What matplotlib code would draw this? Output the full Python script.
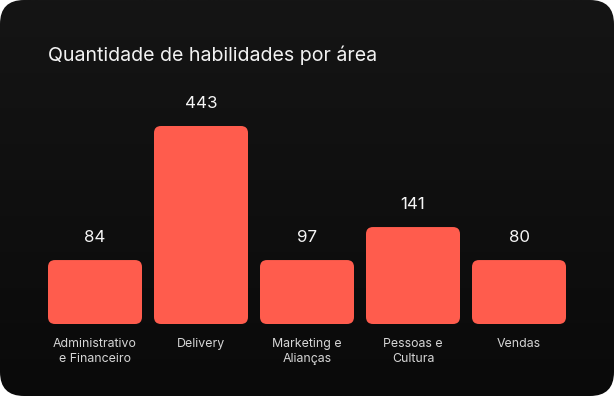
"""Quantidade de habilidades por área — dark card bar chart."""
import matplotlib
matplotlib.use("Agg")
import matplotlib.pyplot as plt
import numpy as np
from matplotlib.patches import FancyBboxPatch

areas = ["Administrativo\ne Financeiro", "Delivery", "Marketing e\nAlianças",
         "Pessoas e\nCultura", "Vendas"]
counts = np.array([84, 443, 97, 141, 80])

W, H, DPI = 614, 396, 100
BAR, TITLE, LABEL, WHITE = "#ff5c4d", "#f2f2f2", "#d6d6d6", "#f5f5f5"
FLOOR = 97          # smallest areas are drawn at a common minimum height
BASE = 47           # log-scale origin of the bars

plt.rcParams["font.family"] = ["Inter", "DejaVu Sans"]

fig = plt.figure(figsize=(W / DPI, H / DPI), dpi=DPI, facecolor="white")

# rounded dark card with a soft vertical gradient
card = FancyBboxPatch((0, 0), W, H, boxstyle="round,pad=0,rounding_size=24",
                      transform=None, facecolor="none", edgecolor="none")
fig.patches.append(card)
bg = fig.add_axes([0, 0, 1, 1], zorder=-1)
bg.axis("off")
grad = np.linspace(0, 1, 256)[:, None]
img = bg.imshow(grad, cmap=matplotlib.colors.LinearSegmentedColormap.from_list(
    "card", ["#151515", "#0a0a0a"]), aspect="auto", extent=[0, 1, 0, 1])
img.set_clip_path(card)

fig.text(48 / W, 1 - 61 / H, "Quantidade de habilidades por área",
         fontsize=14.1, color=TITLE, va="baseline", ha="left")

ax = fig.add_axes([48 / W, 72 / H, 518 / W, 198 / H])
ax.set_yscale("log")
ax.set_ylim(BASE, counts.max())
x = np.arange(len(areas))
half = 94 / 106 / 2
ax.set_xlim(-half, len(areas) - 1 + half)
ax.axis("off")

shown = np.maximum(counts, FLOOR)
bars = ax.bar(x, shown - BASE, bottom=BASE, width=2 * half, color="none")
for b, v, lab in zip(bars, counts, areas):
    (x0, y0), (x1, y1) = ax.transData.transform(
        [(b.get_x(), b.get_y()), (b.get_x() + b.get_width(), b.get_y() + b.get_height())])
    fig.patches.append(FancyBboxPatch((x0, y0), x1 - x0, y1 - y0,
                                      boxstyle="round,pad=0,rounding_size=7",
                                      transform=None, facecolor=BAR, edgecolor="none"))
    xc = b.get_x() + b.get_width() / 2
    ax.annotate(f"{v}", (xc, b.get_y() + b.get_height()), xytext=(0, 13),
                textcoords="offset points", ha="center", va="baseline",
                fontsize=12.2, color=WHITE, annotation_clip=False)
    ax.annotate(lab, (xc, BASE), xytext=(0, -10), textcoords="offset points",
                ha="center", va="top", fontsize=8.9, color=LABEL,
                linespacing=1.3, annotation_clip=False)

fig.savefig("out.png", dpi=DPI, facecolor="white")
